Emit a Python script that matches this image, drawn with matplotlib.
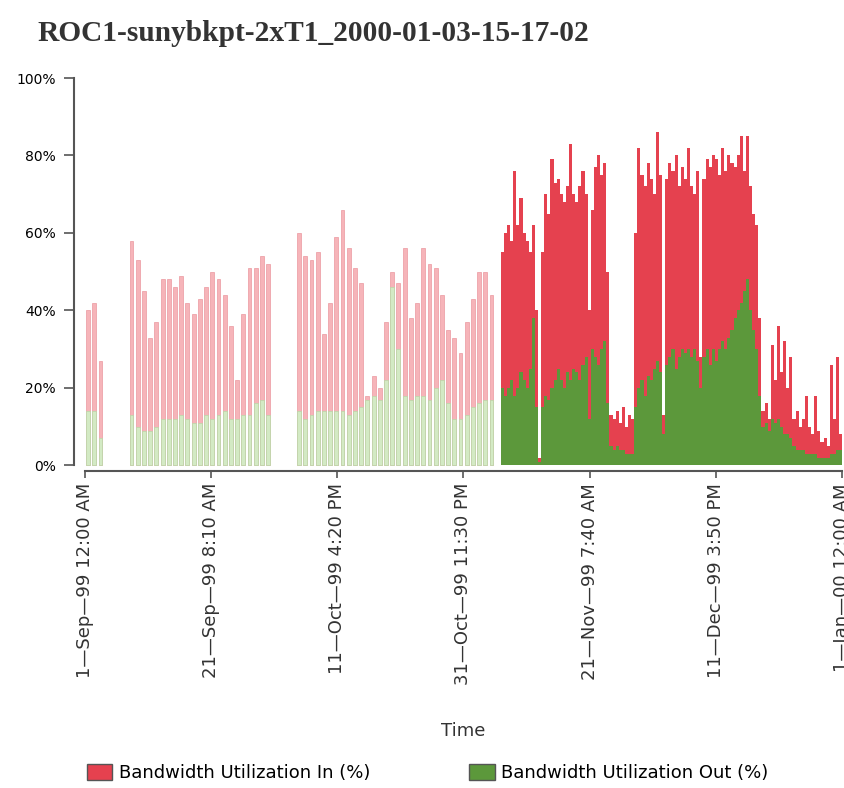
import datetime as dt
import matplotlib
matplotlib.use("Agg")
from matplotlib import pyplot as plt
from matplotlib import patches
import matplotlib.dates as mdates

# daily samples, 1-Sep-99 .. 5-Nov-99 (day offsets from 1-Sep-99)
early_days = [0, 1, 2] + list(range(7, 30)) + list(range(34, 66))
early_in = [40, 42, 27,
            58, 53, 45, 33, 37, 48, 48, 46, 49, 42, 39, 43, 46, 50, 48, 44,
            36, 22, 39, 51, 51, 54, 52,
            60, 54, 53, 55, 34, 42, 59, 66, 56, 51, 47, 18, 23, 20, 37, 50,
            47, 56, 38, 42, 56, 52, 51, 44, 35, 33, 29, 37, 43, 50, 50, 44]
early_out = [14, 14, 7,
             13, 10, 9, 9, 10, 12, 12, 12, 13, 12, 11, 11, 13, 12, 13, 14,
             12, 12, 13, 13, 16, 17, 13,
             14, 12, 13, 14, 14, 14, 14, 14, 13, 14, 15, 17, 18, 17, 22, 46,
             30, 18, 17, 18, 18, 17, 20, 22, 16, 12, 12, 13, 15, 16, 17, 17]

# half-day samples from day 67 (6-Nov-99) to 1-Jan-00
dense_start = 67
dense_in = [55, 60, 62, 58, 76, 62, 69, 60, 58, 55, 62, 40, 2, 55, 70, 65,
            79, 73, 74, 70, 68, 72, 83, 70, 68, 72, 76, 70, 40, 66, 77, 80,
            75, 78, 50, 13, 12, 14, 11, 15, 10, 13, 12, 60, 82, 75, 72, 78,
            74, 70, 86, 75, 13, 74, 78, 76, 80, 72, 77, 74, 82, 72, 70, 76,
            28, 74, 79, 77, 80, 79, 75, 82, 76, 80, 78, 77, 80, 85, 76, 85,
            72, 65, 62, 38, 14, 16, 12, 31, 22, 36, 24, 32, 20, 28, 12, 14,
            10, 12, 18, 10, 8, 18, 9, 6, 7, 5, 26, 12, 28, 8]
dense_out = [20, 18, 20, 22, 18, 20, 24, 22, 20, 25, 38, 15, 1, 15, 18, 17,
             20, 22, 25, 22, 20, 24, 22, 25, 24, 22, 26, 28, 12, 30, 28, 26,
             30, 32, 16, 5, 4, 5, 4, 4, 3, 3, 3, 15, 20, 22, 18, 23,
             22, 25, 27, 24, 8, 26, 28, 30, 25, 28, 30, 29, 30, 28, 30, 27,
             20, 28, 30, 26, 30, 27, 30, 32, 30, 33, 35, 38, 40, 42, 45, 48,
             40, 35, 30, 18, 10, 11, 9, 12, 11, 12, 10, 8, 8, 7, 5, 4,
             4, 4, 3, 3, 3, 3, 2, 2, 2, 2, 3, 3, 4, 4]

tick_times = [dt.datetime(1999, 9, 1, 0, 0), dt.datetime(1999, 9, 21, 8, 10),
              dt.datetime(1999, 10, 11, 16, 20), dt.datetime(1999, 10, 31, 23, 30),
              dt.datetime(1999, 11, 21, 7, 40), dt.datetime(1999, 12, 11, 15, 50),
              dt.datetime(2000, 1, 1, 0, 0)]
tick_labels = ["1\u2014Sep\u201499 12:00 AM", "21\u2014Sep\u201499 8:10 AM",
               "11\u2014Oct\u201499 4:20 PM", "31\u2014Oct\u201499 11:30 PM",
               "21\u2014Nov\u201499 7:40 AM", "11\u2014Dec\u201499 3:50 PM",
               "1\u2014Jan\u201400 12:00 AM"]

red = "#e5414f"
green = "#5c983b"
pale_red = "#f6b4b9"
pale_green = "#d3eac4"

t0 = mdates.date2num(dt.datetime(1999, 9, 1))
x_early = [t0 + d + 0.5 for d in early_days]
x_dense = [t0 + dense_start + 0.5 * k + 0.25 for k in range(len(dense_in))]

fig = plt.figure(figsize=(8.45, 7.88), dpi=100)
ax = fig.add_axes([0.1006, 0.402, 0.896, 0.499])

ax.bar(x_early, early_in, width=0.62, color=pale_red, edgecolor="#eb98a0", linewidth=0.5)
ax.bar(x_early, early_out, width=0.62, color=pale_green, edgecolor="#b9d9a8", linewidth=0.5)
ax.bar(x_dense, dense_in, width=0.5, color=red, linewidth=0)
ax.bar(x_dense, dense_out, width=0.5, color=green, linewidth=0)

ax.set_xlim(t0, mdates.date2num(tick_times[-1]))
ax.set_ylim(-1.5, 100)
ax.set_xticks([mdates.date2num(t) for t in tick_times])
ax.set_xticklabels(tick_labels, rotation=90, fontsize=13, color="#333333")
ax.set_yticks([0, 20, 40, 60, 80, 100])
ax.set_yticklabels(["0%", "20%", "40%", "60%", "80%", "100%"], fontsize=9.5, color="#333333")
ax.tick_params(axis="both", direction="out", length=5, width=1.2, color="#555555")
ax.tick_params(axis="y", length=7, pad=6)
for s in ("top", "right"):
    ax.spines[s].set_visible(False)
for s in ("left", "bottom"):
    ax.spines[s].set_color("#555555")
    ax.spines[s].set_linewidth(1.5)
ax.spines["left"].set_position(("outward", 8))
ax.spines["left"].set_bounds(0, 100)

ax.set_xlabel("Time", fontsize=13, color="#333333", labelpad=26)

fig.text(0.044, 0.958, "ROC1-sunybkpt-2xT1_2000-01-03-15-17-02", fontsize=21.2,
         fontweight="bold", family="Liberation Serif", color="#333333", va="center")

handles = [patches.Patch(facecolor=red, edgecolor="#555555", label="Bandwidth Utilization In (%)"),
           patches.Patch(facecolor=green, edgecolor="#555555", label="Bandwidth Utilization Out (%)")]
fig.legend(handles=handles, loc="lower left", bbox_to_anchor=(87 / 845, 6 / 788), ncol=2,
           frameon=False, fontsize=13, handlelength=1.4, handleheight=1.0,
           handletextpad=0.35, columnspacing=5.5, borderpad=0, borderaxespad=0)

fig.savefig("out.png", dpi=100)
